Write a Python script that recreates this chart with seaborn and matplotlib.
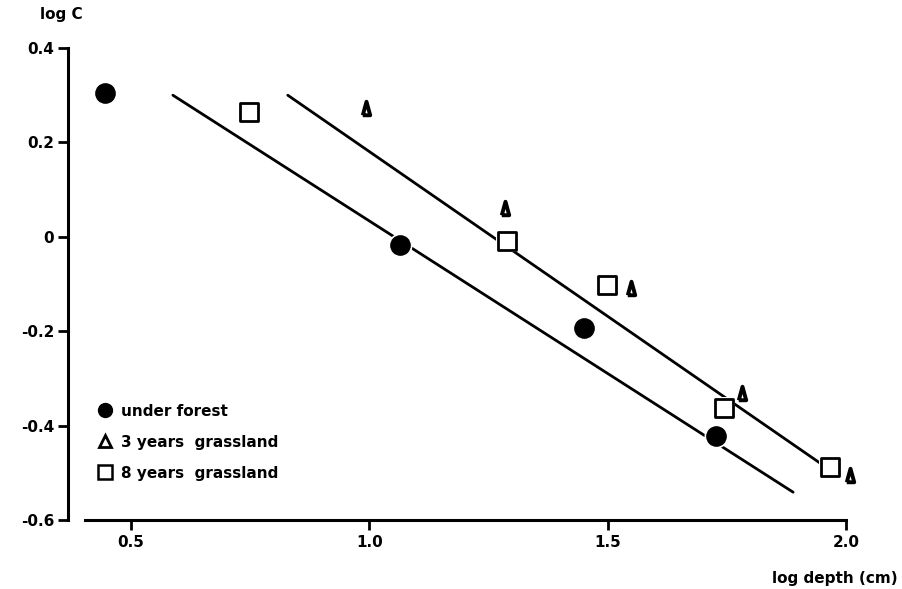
import matplotlib
matplotlib.use("Agg")
import matplotlib.pyplot as plt
import seaborn as sns
import pandas as pd
from matplotlib.lines import Line2D

# Data
forest_x = [0.445, 1.064, 1.450, 1.727]
forest_y = [0.305, -0.017, -0.193, -0.422]
grass3_x = [0.993, 1.285, 1.549, 1.782, 2.008]
grass3_y = [0.273, 0.061, -0.108, -0.331, -0.505]
grass8_x = [0.748, 1.289, 1.499, 1.744, 1.966]
grass8_y = [0.264, -0.009, -0.102, -0.363, -0.488]

# fitted lines (endpoints)
line_forest_x = [0.588, 1.889]
line_forest_y = [0.300, -0.541]
line_grass_x = [0.829, 1.945]
line_grass_y = [0.300, -0.479]

xticks = [0.5, 1.0, 1.5, 2.0]
xticklabels = ["0.5", "1.0", "1.5", "2.0"]
yticks = [0.4, 0.2, 0.0, -0.2, -0.4, -0.6]
yticklabels = ["0.4", "0.2", "0", "-0.2", "-0.4", "-0.6"]
labels = ["under forest", "3 years  grassland", "8 years  grassland"]

sns.set_style("ticks")
plt.rcParams["font.family"] = ["DejaVu Sans"]
plt.rcParams["font.weight"] = "bold"
plt.rcParams["text.color"] = "black"

fig = plt.figure(figsize=(9.02, 5.89), dpi=100)
ax = fig.add_axes([0.0754, 0.1171, 0.8784, 0.8174])

lines_df = pd.DataFrame({
    "x": line_forest_x + line_grass_x,
    "y": line_forest_y + line_grass_y,
    "g": ["f", "f", "g", "g"],
})
sns.lineplot(data=lines_df, x="x", y="y", units="g", estimator=None,
             color="black", linewidth=2.0, ax=ax, zorder=2, legend=False)

tri = [(-0.55, -1.0), (0.55, -1.0), (0.0, 1.0), (-0.55, -1.0)]

# white halos to break lines near markers
for xs, ys, m, s in [(forest_x, forest_y, "o", 300), (grass8_x, grass8_y, "s", 260)]:
    ax.scatter(xs, ys, marker=m, s=s, color="white", zorder=3, linewidths=0)

sns.scatterplot(x=forest_x, y=forest_y, marker="o", s=190, color="black",
                edgecolor="black", ax=ax, zorder=4, legend=False)
sns.scatterplot(x=grass3_x, y=grass3_y, marker=tri, s=95, facecolor="white",
                edgecolor="black", linewidth=2.8, ax=ax, zorder=4, legend=False)
sns.scatterplot(x=grass8_x, y=grass8_y, marker="s", s=150, facecolor="white",
                edgecolor="black", linewidth=2.0, ax=ax, zorder=4, legend=False)

ax.set_xlim(0.368, 2.03)
ax.set_ylim(-0.6, 0.42)
ax.spines["top"].set_visible(False)
ax.spines["right"].set_visible(False)
ax.spines["left"].set_bounds(-0.6, 0.4)
ax.spines["bottom"].set_bounds(0.404, 2.0)
for sp in ("left", "bottom"):
    ax.spines[sp].set_linewidth(2.2)
    ax.spines[sp].set_color("black")

ax.set_xticks(xticks)
ax.set_xticklabels(xticklabels, fontsize=11, fontweight="bold")
ax.set_yticks(yticks)
ax.set_yticklabels(yticklabels, fontsize=11, fontweight="bold")
ax.tick_params(axis="both", direction="out", length=7, width=2, color="black",
               labelcolor="black")
ax.tick_params(axis="y", pad=3)
ax.tick_params(axis="x", pad=4)
ax.set_xlabel("")
ax.set_ylabel("")

fig.text(40 / 902, 1 - 15 / 589, "log C", fontsize=11, fontweight="bold",
         va="center", ha="left", color="black")
fig.text(898 / 902, 1 - 578 / 589, "log depth (cm)", fontsize=11,
         fontweight="bold", va="center", ha="right", color="black")

handles = [
    Line2D([], [], marker="o", linestyle="none", markersize=10,
           markerfacecolor="black", markeredgecolor="black"),
    Line2D([], [], marker="^", linestyle="none", markersize=9,
           markerfacecolor="white", markeredgecolor="black", markeredgewidth=2),
    Line2D([], [], marker="s", linestyle="none", markersize=10,
           markerfacecolor="white", markeredgecolor="black", markeredgewidth=1.8),
]
leg = ax.legend(handles, labels, loc="upper left",
                bbox_to_anchor=(84 / 902, 1 - 390 / 589),
                bbox_transform=fig.transFigure, frameon=False,
                handlelength=1.0, handletextpad=0.5, labelspacing=1.05,
                labelcolor="black",
                prop={"size": 11, "weight": "bold"})

fig.savefig("out.png", dpi=100)
